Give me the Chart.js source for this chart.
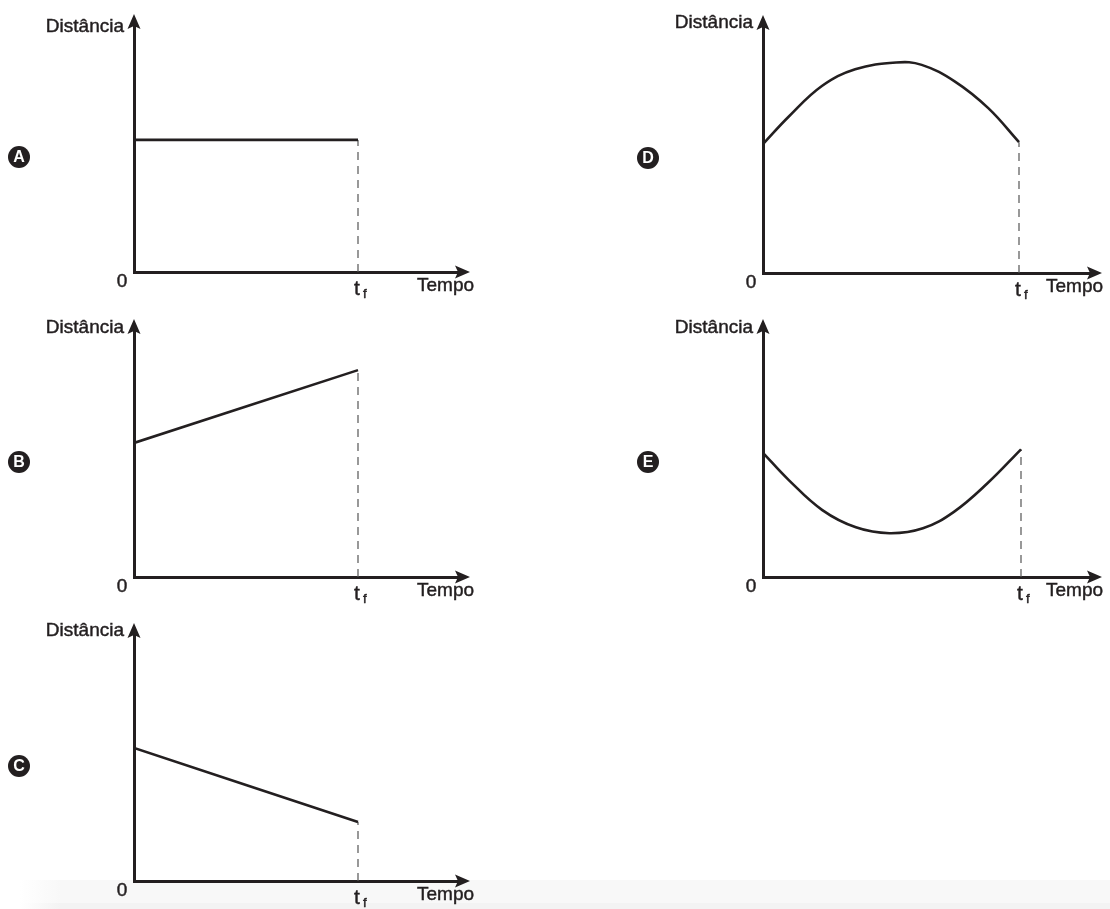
<!DOCTYPE html>
<html>
<head>
<meta charset="utf-8">
<script src="https://cdn.jsdelivr.net/npm/chart.js@4/dist/chart.umd.min.js"></script>
<style>
  html, body { margin: 0; padding: 0; background: #fff; width: 1110px; height: 909px; overflow: hidden; }
  .band { position: absolute; left: 20px; right: 0; top: 880px; height: 23px; background: linear-gradient(to right, #fff 0, #f8f8f8 40px); }
  .band2 { position: absolute; left: 20px; right: 0; top: 903px; height: 6px; background: linear-gradient(to right, #fff 0, #f3f3f3 40px); }
  canvas { position: absolute; }
</style>
</head>
<body>
<div class="band"></div>
<div class="band2"></div>
<canvas id="graf-A" width="480" height="305" style="left:0px;top:0px"></canvas>
<canvas id="graf-B" width="480" height="305" style="left:0px;top:305px"></canvas>
<canvas id="graf-C" width="480" height="305" style="left:0px;top:609px"></canvas>
<canvas id="graf-D" width="480" height="305" style="left:629px;top:1px"></canvas>
<canvas id="graf-E" width="480" height="305" style="left:629px;top:305px"></canvas>
<script>
// Data definitions (tf = 1, distance axis 0..10)
const panelLetters = ['A', 'B', 'C', 'D', 'E'];
const yAxisLabel = 'Distância';
const xAxisLabel = 'Tempo';
const originLabel = '0';
const tfLabel = 't';
const tfSubscript = 'f';
const tfValue = 1;

const timeLine = [0, 1];
const distA = [5.37, 5.37];
const distB = [5.45, 8.41];
const distC = [5.41, 2.40];

// curves at their own time positions
const timeD = [0, 0.10, 0.23, 0.36, 0.52, 0.62, 0.75, 0.88, 1];
const distD = [5.24, 6.35, 7.60, 8.28, 8.56, 8.46, 7.78, 6.70, 5.32];
const timeE = [0, 0.10, 0.23, 0.36, 0.49, 0.62, 0.74, 0.87, 1];
const distE = [5.05, 3.94, 2.72, 2.02, 1.78, 1.98, 2.65, 3.81, 5.19];

// layout per panel: pixel length of tf and of the x arrow, title offset
const panels = [
  { id: 'graf-A', times: timeLine, dist: distA, tfPx: 224, tipPx: 336, titleDy: 6 },
  { id: 'graf-B', times: timeLine, dist: distB, tfPx: 224, tipPx: 336, titleDy: 2 },
  { id: 'graf-C', times: timeLine, dist: distC, tfPx: 224, tipPx: 336, titleDy: 1 },
  { id: 'graf-D', times: timeD, dist: distD, tfPx: 256, tipPx: 339, titleDy: 1 },
  { id: 'graf-E', times: timeE, dist: distE, tfPx: 258, tipPx: 339, titleDy: 2 }
];

const ink = '#231f20';
const fontName = '"Liberation Sans", Arial, Helvetica, sans-serif';
Chart.defaults.font.family = fontName;

// print-like text: fill plus a hairline stroke
function inkText(ctx, txt, x, y) {
  ctx.fillText(txt, x, y);
  ctx.strokeText(txt, x, y);
}

// arrows, labels, letter badge
const decorPlugin = {
  id: 'decor',
  afterDraw(chart, args, opts) {
    const ctx = chart.ctx;
    const { left, top, right, bottom } = chart.chartArea;
    const tfX = chart.scales.x.getPixelForValue(tfValue);
    ctx.save();
    ctx.fillStyle = ink;
    ctx.strokeStyle = ink;
    ctx.lineWidth = 0.45;

    // y arrow
    ctx.beginPath();
    ctx.moveTo(left, top - 12);
    ctx.lineTo(left + 6.5, top + 3);
    ctx.lineTo(left, top);
    ctx.lineTo(left - 6.5, top + 3);
    ctx.closePath();
    ctx.fill();
    // x arrow
    ctx.beginPath();
    ctx.moveTo(right + 12, bottom);
    ctx.lineTo(right - 3, bottom - 6.5);
    ctx.lineTo(right, bottom);
    ctx.lineTo(right - 3, bottom + 6.5);
    ctx.closePath();
    ctx.fill();

    ctx.textBaseline = 'alphabetic';
    ctx.font = '19px ' + fontName;
    ctx.textAlign = 'right';
    inkText(ctx, yAxisLabel, left - 10, top + opts.titleDy);
    ctx.textAlign = 'left';
    inkText(ctx, xAxisLabel, left + 283, bottom + 19);
    ctx.textAlign = 'center';
    inkText(ctx, originLabel, left - 12, bottom + 15);

    ctx.font = '21px ' + fontName;
    inkText(ctx, tfLabel, tfX - 1, bottom + 23);
    ctx.font = '13px ' + fontName;
    ctx.textAlign = 'left';
    inkText(ctx, tfSubscript, tfX + 5, bottom + 26);

    // letter badge
    const bx = left - 115, by = bottom - 115;
    ctx.beginPath();
    ctx.arc(bx, by, 11, 0, Math.PI * 2);
    ctx.fill();
    ctx.fillStyle = '#fff';
    ctx.font = 'bold 16px ' + fontName;
    ctx.textAlign = 'center';
    ctx.textBaseline = 'middle';
    ctx.fillText(opts.letter, bx, by + 1);
    ctx.restore();
  }
};

const charts = panels.map((p, i) => {
  const points = p.times.map((t, k) => ({ x: t, y: p.dist[k] }));
  const endValue = p.dist[p.dist.length - 1];
  return new Chart(document.getElementById(p.id).getContext('2d'), {
    type: 'line',
    data: {
      datasets: [
        {
          label: 'distância',
          data: points,
          borderColor: ink,
          borderWidth: 2.6,
          pointRadius: 0,
          tension: 0.4,
          fill: false,
          order: 1
        },
        {
          label: 'tf',
          data: [{ x: tfValue, y: 0 }, { x: tfValue, y: endValue }],
          borderColor: '#555',
          borderWidth: 1.2,
          borderDash: [8, 6],
          pointRadius: 0,
          fill: false,
          order: 2
        }
      ]
    },
    options: {
      responsive: false,
      animation: false,
      events: [],
      layout: {
        padding: { left: 134, top: 26, bottom: 33, right: 480 - (134 + p.tipPx - 12) }
      },
      plugins: {
        legend: { display: false },
        tooltip: { enabled: false },
        decor: { letter: panelLetters[i], titleDy: p.titleDy }
      },
      scales: {
        x: {
          type: 'linear',
          min: 0,
          max: (p.tipPx - 12) / p.tfPx,
          grid: { display: false, drawTicks: false },
          ticks: { display: false },
          border: { display: true, color: ink, width: 3 }
        },
        y: {
          type: 'linear',
          min: 0,
          max: 10,
          grid: { display: false, drawTicks: false },
          ticks: { display: false },
          border: { display: true, color: ink, width: 3 }
        }
      }
    },
    plugins: [decorPlugin]
  });
});
</script>
</body>
</html>
